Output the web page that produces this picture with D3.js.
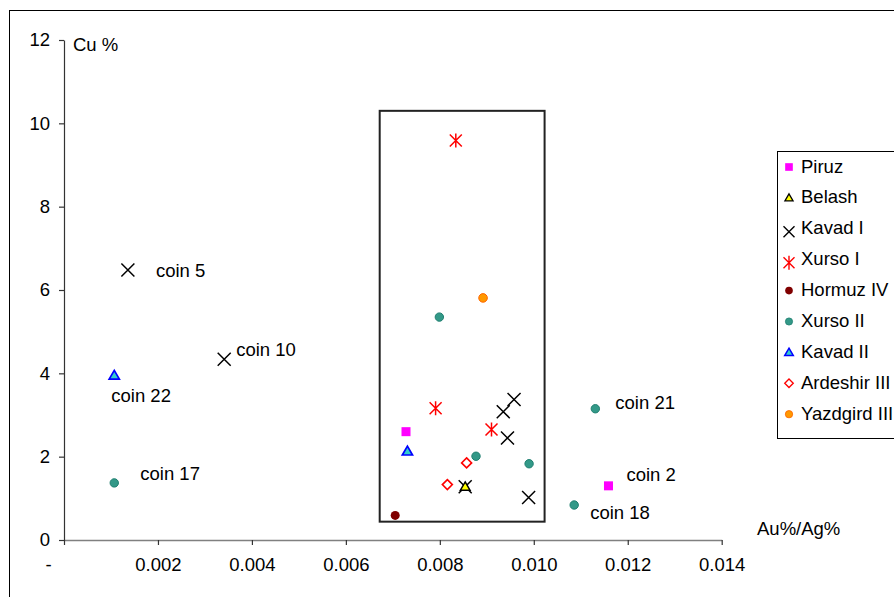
<!DOCTYPE html>
<html>
<head>
<meta charset="utf-8">
<script src="https://cdn.jsdelivr.net/npm/d3@7"></script>
<style>
  html, body { margin: 0; padding: 0; background: #fff; }
  svg text { font-family: "Liberation Sans", Arial, sans-serif; fill: #000; }
</style>
</head>
<body>
<svg id="chart" width="894" height="597"></svg>
<script>
// ---- data ----
const seriesNames = ["Piruz", "Belash", "Kavad I", "Xurso I", "Hormuz IV", "Xurso II", "Kavad II", "Ardeshir III", "Yazdgird III"];
const piruz      = [[0.00728, 2.60], [0.01159, 1.30]];
const belash     = [[0.00854, 1.28]];
const kavad1     = [[0.00136, 6.48], [0.00341, 4.34], [0.00958, 3.37], [0.00935, 3.08], [0.00944, 2.45], [0.00989, 1.02], [0.00854, 1.28]];
const xurso1     = [[0.00834, 9.59], [0.00791, 3.16], [0.00910, 2.65]];
const hormuz4    = [[0.00705, 0.59]];
const xurso2     = [[0.00799, 5.35], [0.00877, 2.01], [0.00990, 1.83], [0.01131, 3.15], [0.01086, 0.84], [0.00107, 1.37]];
const kavad2     = [[0.00107, 3.95], [0.00731, 2.13]];
const ardeshir3  = [[0.00857, 1.85], [0.00816, 1.33]];
const yazdgird3  = [[0.00892, 5.81]];
const xTicks = [0, 0.002, 0.004, 0.006, 0.008, 0.010, 0.012, 0.014];
const yTicks = [0, 2, 4, 6, 8, 10, 12];
const xTickLabels = ["-", "0.002", "0.004", "0.006", "0.008", "0.010", "0.012", "0.014"];
const pointLabels = [
  { text: "coin 5",  x: 0.00136, y: 6.48 },
  { text: "coin 10", x: 0.00341, y: 4.34 },
  { text: "coin 22", x: 0.00107, y: 3.95 },
  { text: "coin 17", x: 0.00107, y: 1.37 },
  { text: "coin 21", x: 0.01131, y: 3.15 },
  { text: "coin 2",  x: 0.01159, y: 1.30 },
  { text: "coin 18", x: 0.01086, y: 0.84 }
];
const boxX = [0.00672, 0.01023];
const boxY = [0.44, 10.30];

// ---- layout / style ----
const svg = d3.select("#chart");
const x = d3.scaleLinear().domain([0, 0.014]).range([64, 721.7]);
const y = d3.scaleLinear().domain([0, 12]).range([540, 40]);
const FS = 18.5;

// outer chart frame
svg.append("rect").attr("x", 9.5).attr("y", 10.5).attr("width", 1000).attr("height", 1000)
  .attr("fill", "none").attr("stroke", "#000").attr("stroke-width", 1);

// highlight rectangle
svg.append("rect")
  .attr("x", x(boxX[0])).attr("y", y(boxY[1]))
  .attr("width", x(boxX[1]) - x(boxX[0])).attr("height", y(boxY[0]) - y(boxY[1]))
  .attr("fill", "none").attr("stroke", "#222").attr("stroke-width", 2);

// axes
const xAxis = d3.axisBottom(x).tickValues(xTicks).tickSize(5).tickSizeOuter(0)
  .tickFormat((d, i) => xTickLabels[i]);
const gx = svg.append("g").attr("transform", `translate(0,${y(0)})`).call(xAxis);
gx.select(".domain").attr("stroke", "#808080").attr("stroke-width", 1.3);
gx.selectAll(".tick line").attr("stroke", "#333").attr("stroke-width", 1.2);
gx.selectAll(".tick text").attr("font-size", FS).attr("dy", "1.25em")
  .style("font-family", '"Liberation Sans", Arial, sans-serif').attr("fill", "#000");
gx.selectAll(".tick").filter(d => d === 0).select("text").attr("dx", -16);

const yAxis = d3.axisLeft(y).tickValues(yTicks).tickSize(5).tickSizeOuter(0).tickFormat(d3.format("d"));
const gy = svg.append("g").attr("transform", `translate(${x(0)},0)`).call(yAxis);
gy.select(".domain").attr("stroke", "#333").attr("stroke-width", 1.2);
gy.selectAll(".tick line").attr("stroke", "#333").attr("stroke-width", 1.2);
gy.selectAll(".tick text").attr("font-size", FS).attr("dx", -6)
  .style("font-family", '"Liberation Sans", Arial, sans-serif').attr("fill", "#000");

// axis titles
svg.append("text").attr("x", 73).attr("y", 51).attr("font-size", FS).text("Cu %");
svg.append("text").attr("x", 757).attr("y", 535).attr("font-size", FS).text("Au%/Ag%");

// marker drawers
const sym = (type, size) => d3.symbol().type(type).size(size)();
const markers = {
  "Piruz":        g => g.append("rect").attr("x", -4.5).attr("y", -4.5).attr("width", 9).attr("height", 9).attr("fill", "#FF00FF"),
  "Belash":       g => g.append("path").attr("d", sym(d3.symbolTriangle, 40)).attr("transform", "translate(0,0.8)").attr("fill", "#FFFF00").attr("stroke", "#000").attr("stroke-width", 1.5),
  "Kavad I":      g => g.append("path").attr("d", "M-6.5,-6.5L6.5,6.5M-6.5,6.5L6.5,-6.5").attr("stroke", "#000").attr("stroke-width", 1.5).attr("fill", "none"),
  "Xurso I":      g => g.append("path").attr("d", "M-6,-6L6,6M-6,6L6,-6M0,-7L0,7").attr("stroke", "#FF0000").attr("stroke-width", 1.5).attr("fill", "none"),
  "Hormuz IV":    g => g.append("circle").attr("r", 4.5).attr("fill", "#800000"),
  "Xurso II":     g => g.append("circle").attr("r", 4.2).attr("fill", "#339988").attr("stroke", "#1F7F70").attr("stroke-width", 1),
  "Kavad II":     g => g.append("path").attr("d", sym(d3.symbolTriangle, 45)).attr("transform", "translate(0,0.8)").attr("fill", "#33CCCC").attr("stroke", "#0000FF").attr("stroke-width", 1.7),
  "Ardeshir III": g => g.append("path").attr("d", "M0,-5L5,0L0,5L-5,0Z").attr("fill", "#fff").attr("stroke", "#FF0000").attr("stroke-width", 1.6),
  "Yazdgird III": g => g.append("circle").attr("r", 4.3).attr("fill", "#FF9900").attr("stroke", "#FF6600").attr("stroke-width", 1)
};
const seriesData = [piruz, belash, kavad1, xurso1, hormuz4, xurso2, kavad2, ardeshir3, yazdgird3];

// draw points
const drawOrder = [4, 5, 6, 7, 8, 0, 3, 2, 1];
drawOrder.forEach(si => {
  const name = seriesNames[si];
  svg.append("g").selectAll("g").data(seriesData[si]).join("g")
    .attr("transform", d => `translate(${x(d[0])},${y(d[1])})`)
    .each(function () { markers[name](d3.select(this)); });
});

// point labels (offsets in px: label left edge and vertical centre relative to the point)
const labelOffsets = {
  "coin 5":  [28, 0],
  "coin 10": [12, -10],
  "coin 22": [-3, 20],
  "coin 17": [26, -9],
  "coin 21": [20, -6],
  "coin 2":  [18, -11],
  "coin 18": [16, 7]
};
svg.append("g").selectAll("text").data(pointLabels).join("text")
  .attr("x", d => x(d.x) + labelOffsets[d.text][0])
  .attr("y", d => y(d.y) + labelOffsets[d.text][1] + 6.5)
  .attr("font-size", FS)
  .text(d => d.text);

// legend
const lg = svg.append("g");
lg.append("rect").attr("x", 777.5).attr("y", 151.5).attr("width", 160).attr("height", 287)
  .attr("fill", "#fff").attr("stroke", "#000").attr("stroke-width", 1);
seriesNames.forEach((name, i) => {
  const cy = 166 + i * 30.9;
  const g = lg.append("g").attr("transform", `translate(789,${cy + 1})`);
  if (name === "Kavad I") {
    g.append("path").attr("d", "M-5.5,-5.5L5.5,5.5M-5.5,5.5L5.5,-5.5").attr("stroke", "#000").attr("stroke-width", 1.4).attr("transform", "translate(0,3)");
  } else if (name === "Xurso I") {
    g.append("path").attr("d", "M-5.5,-5.5L5.5,5.5M-5.5,5.5L5.5,-5.5M0,-7L0,7").attr("stroke", "#FF0000").attr("stroke-width", 1.4).attr("transform", "translate(0,3)");
  } else {
    const s = g.append("g").attr("transform", "scale(0.85)");
    markers[name](s);
  }
  lg.append("text").attr("x", 801).attr("y", cy + 6.5).attr("font-size", FS).text(name);
});
</script>
</body>
</html>
